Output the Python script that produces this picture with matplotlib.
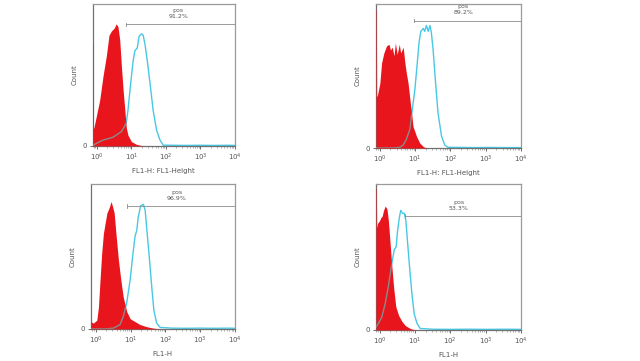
import matplotlib
matplotlib.use("Agg")
import matplotlib.pyplot as plt
import numpy as np

# ---- data (log10 of fluorescence, normalized counts) ----
tl_red_x = [-0.12, -0.112, -0.105, -0.087, 0.078, 0.175, 0.27, 0.35, 0.42, 0.50, 0.56, 0.61, 0.66, 0.71, 0.76, 0.81, 0.85, 0.90, 1.0, 1.15, 1.34]
tl_red_y = [0.72, 0.72, 0.12, 0.13, 0.32, 0.49, 0.63, 0.78, 0.81, 0.83, 0.86, 0.84, 0.75, 0.56, 0.39, 0.25, 0.13, 0.075, 0.03, 0.01, 0.0]
tl_cy_x = [-0.12, -0.07, 0.17, 0.46, 0.71, 0.85, 0.90, 0.97, 1.05, 1.10, 1.17, 1.22, 1.29, 1.34, 1.39, 1.46, 1.54, 1.63, 1.73, 1.83, 1.92, 2.2, 2.6, 3.0, 3.4, 3.8, 4.0]
tl_cy_y = [0.0, 0.01, 0.04, 0.06, 0.10, 0.16, 0.25, 0.42, 0.60, 0.67, 0.69, 0.77, 0.79, 0.78, 0.72, 0.60, 0.44, 0.25, 0.11, 0.04, 0.005, 0.004, 0.003, 0.004, 0.003, 0.004, 0.003]

tr_red_x = [-0.11, -0.10, -0.09, -0.075, 0.0, 0.047, 0.113, 0.19, 0.26, 0.30, 0.35, 0.40, 0.44, 0.49, 0.55, 0.59, 0.66, 0.71, 0.75, 0.80, 0.85, 0.90, 0.94, 1.04, 1.13, 1.23, 1.32]
tr_red_y = [0.96, 0.96, 0.36, 0.36, 0.45, 0.59, 0.66, 0.71, 0.72, 0.68, 0.70, 0.64, 0.73, 0.65, 0.72, 0.66, 0.70, 0.59, 0.52, 0.45, 0.34, 0.24, 0.15, 0.08, 0.035, 0.01, 0.0]
tr_cy_x = [-0.11, 0.4, 0.57, 0.66, 0.75, 0.85, 0.92, 0.99, 1.06, 1.11, 1.16, 1.23, 1.27, 1.32, 1.37, 1.42, 1.46, 1.51, 1.58, 1.65, 1.75, 1.84, 1.93, 2.3, 2.7, 3.1, 3.5, 4.0]
tr_cy_y = [0.0, 0.0, 0.005, 0.02, 0.06, 0.13, 0.27, 0.40, 0.59, 0.73, 0.81, 0.83, 0.81, 0.85, 0.81, 0.85, 0.80, 0.68, 0.45, 0.24, 0.08, 0.02, 0.005, 0.004, 0.003, 0.004, 0.003, 0.003]

bl_red_x = [-0.14, -0.07, 0.03, 0.077, 0.124, 0.17, 0.22, 0.32, 0.39, 0.44, 0.49, 0.53, 0.58, 0.65, 0.72, 0.79, 0.89, 0.99, 1.13, 1.27, 1.46, 1.66, 1.85]
bl_red_y = [0.05, 0.04, 0.06, 0.15, 0.34, 0.52, 0.66, 0.80, 0.84, 0.88, 0.84, 0.80, 0.66, 0.48, 0.34, 0.22, 0.12, 0.07, 0.05, 0.03, 0.015, 0.005, 0.0]
bl_cy_x = [-0.14, 0.3, 0.51, 0.70, 0.79, 0.89, 0.99, 1.06, 1.13, 1.18, 1.22, 1.29, 1.37, 1.42, 1.46, 1.53, 1.61, 1.67, 1.75, 1.85, 2.2, 2.6, 3.0, 3.4, 3.8, 4.0]
bl_cy_y = [0.0, 0.0, 0.005, 0.03, 0.085, 0.18, 0.34, 0.50, 0.64, 0.68, 0.77, 0.85, 0.86, 0.82, 0.71, 0.52, 0.29, 0.13, 0.04, 0.01, 0.005, 0.004, 0.005, 0.004, 0.005, 0.004]

br_red_x = [-0.10, -0.09, -0.08, -0.057, 0.0, 0.038, 0.075, 0.113, 0.16, 0.21, 0.25, 0.30, 0.35, 0.40, 0.46, 0.54, 0.63, 0.73, 0.87, 1.01]
br_red_y = [0.97, 0.97, 0.70, 0.73, 0.75, 0.77, 0.78, 0.82, 0.85, 0.83, 0.75, 0.59, 0.43, 0.29, 0.16, 0.10, 0.06, 0.03, 0.01, 0.0]
br_cy_x = [-0.10, -0.03, 0.066, 0.16, 0.25, 0.35, 0.415, 0.47, 0.51, 0.56, 0.60, 0.65, 0.70, 0.745, 0.79, 0.85, 0.915, 0.98, 1.06, 1.15, 1.5, 2.0, 2.5, 3.0, 3.5, 4.0]
br_cy_y = [0.02, 0.045, 0.09, 0.18, 0.30, 0.46, 0.55, 0.57, 0.68, 0.77, 0.82, 0.80, 0.80, 0.75, 0.61, 0.43, 0.25, 0.11, 0.045, 0.01, 0.005, 0.004, 0.005, 0.004, 0.005, 0.004]

gate_pct = ["91.2%", "89.2%", "96.9%", "53.3%"]
gate_start = [0.85, 0.96, 0.89, 0.73]
gate_level = [0.856, 0.885, 0.85, 0.78]
gate_text_x = [2.36, 2.36, 2.33, 2.24]
xlabels = ["FL1-H: FL1-Height", "FL1-H: FL1-Height", "FL1-H", "FL1-H"]
xlims_lo = [-0.12, -0.11, -0.14, -0.10]
tick_labels = [r"$10^{0}$", r"$10^{1}$", r"$10^{2}$", r"$10^{3}$", r"$10^{4}$"]

panels = [
    (tl_red_x, tl_red_y, tl_cy_x, tl_cy_y),
    (tr_red_x, tr_red_y, tr_cy_x, tr_cy_y),
    (bl_red_x, bl_red_y, bl_cy_x, bl_cy_y),
    (br_red_x, br_red_y, br_cy_x, br_cy_y),
]
rects = [
    [0.145, 0.596, 0.222, 0.393],
    [0.5875, 0.590, 0.2265, 0.399],
    [0.142, 0.089, 0.225, 0.401],
    [0.5875, 0.086, 0.2265, 0.404],
]

RED = "#e8161c"
CYAN = "#48c8e4"
GRAY = "#8a8a8a"

fig = plt.figure(figsize=(6.4, 3.61), dpi=100)
for i, (rx, ry, cx, cy) in enumerate(panels):
    ax = fig.add_axes(rects[i])
    ax.set_xscale("log")
    rxv = 10 ** np.array(rx)
    cxv = 10 ** np.array(cx)
    ax.plot(cxv, cy, color=CYAN, lw=1.0, zorder=2)
    poly = ax.fill_between(rxv, 0, ry, color=RED, lw=0, zorder=3)
    gl, = ax.plot(cxv, cy, color=GRAY, lw=1.0, zorder=4)
    gl.set_clip_path(poly.get_paths()[0], transform=poly.get_transform())
    # gate
    ax.plot([10 ** gate_start[i], 10 ** 4], [gate_level[i]] * 2, color="#8c8c8c", lw=0.6, zorder=5)
    ax.plot([10 ** gate_start[i]] * 2, [gate_level[i] - 0.012, gate_level[i] + 0.012], color="#8c8c8c", lw=0.6, zorder=5)
    ax.text(10 ** gate_text_x[i], gate_level[i] + 0.035, "pos\n" + gate_pct[i], ha="center", va="bottom",
            fontsize=4.5, color="#555555", linespacing=1.3)
    ax.set_xlim(10 ** xlims_lo[i], 10 ** 4)
    ax.set_ylim(0, 1)
    ax.set_xticks([1, 10, 100, 1000, 10000])
    ax.set_xticklabels(tick_labels)
    ax.set_yticks([0])
    ax.set_yticklabels(["0"])
    ax.tick_params(axis="both", labelsize=5, colors="#555555", length=2, width=0.6, pad=2)
    ax.tick_params(axis="x", which="minor", length=1.2, width=0.4, colors="#777777")
    ax.set_xlabel(xlabels[i], fontsize=5, color="#555555", labelpad=4)
    ax.set_ylabel("Count", fontsize=5, color="#555555", labelpad=4)
    for s in ax.spines.values():
        s.set_color("#707070")
        s.set_linewidth(0.9)
    ax.spines["right"].set_color("#9a9a9a")
    ax.spines["top"].set_color("#9a9a9a")

fig.savefig("out.png", dpi=100)
